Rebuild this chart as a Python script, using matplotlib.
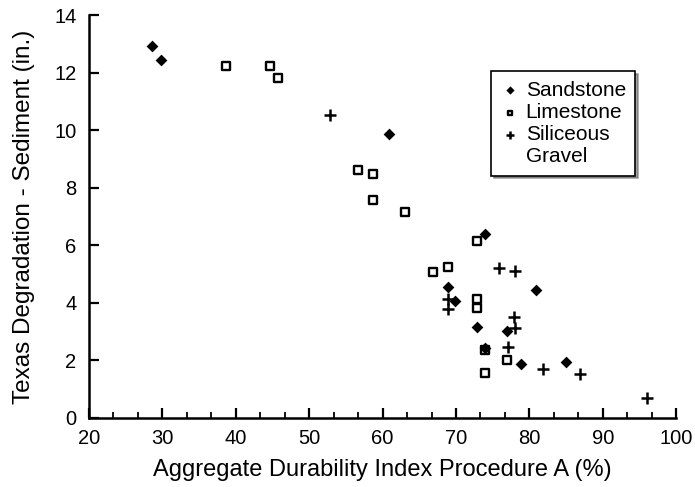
import matplotlib.pyplot as plt
from matplotlib.lines import Line2D
from matplotlib.ticker import MultipleLocator

plt.rcParams['font.family'] = ['Liberation Sans', 'DejaVu Sans']

# Sandstone
sand_x = [28.6, 29.8, 60.9, 74.0, 68.9, 69.9, 72.8, 77.0, 80.9, 78.8, 85.0, 74.0]
sand_y = [12.94, 12.43, 9.86, 6.38, 4.54, 4.06, 3.15, 3.02, 4.44, 1.86, 1.94, 2.42]

# Limestone
lime_x = [38.7, 44.7, 45.7, 56.7, 58.7, 58.7, 63.1, 66.9, 68.9, 72.8, 72.8, 72.8, 74.0, 77.0, 74.0]
lime_y = [12.23, 12.23, 11.83, 8.62, 8.46, 7.58, 7.16, 5.07, 5.23, 6.15, 4.14, 3.82, 2.36, 2.01, 1.55]

# Siliceous gravel
grav_x = [52.9, 75.9, 78.0, 68.9, 68.9, 77.9, 78.0, 77.1, 81.8, 86.9, 96.0]
grav_y = [10.51, 5.21, 5.10, 4.12, 3.77, 3.52, 3.11, 2.45, 1.70, 1.54, 0.69]

fig = plt.figure(figsize=(6.95, 4.87), dpi=100)
ax = fig.add_axes([0.128, 0.142, 0.845, 0.827])

h1 = ax.scatter(sand_x, sand_y, marker='D', s=36, c='black', linewidths=0, zorder=3)
h2 = ax.scatter(lime_x, lime_y, marker='s', s=26, facecolors='white', edgecolors='black',
                linewidths=1.7, zorder=2)
h3 = ax.scatter(grav_x, grav_y, marker='+', s=70, c='black', linewidths=1.8, zorder=3)

ax.set_xlim(20, 100)
ax.set_ylim(0, 14)
ax.xaxis.set_major_locator(MultipleLocator(10))
ax.xaxis.set_minor_locator(MultipleLocator(10 / 3))
ax.yaxis.set_major_locator(MultipleLocator(2))

for s in ['top', 'right']:
    ax.spines[s].set_visible(False)
for s in ['left', 'bottom']:
    ax.spines[s].set_linewidth(1.8)

ax.tick_params(axis='both', which='major', direction='in', length=7, width=1.6,
               labelsize=14.5)
ax.tick_params(axis='x', which='major', pad=8)
ax.tick_params(axis='y', which='major', pad=9)
ax.tick_params(axis='x', which='minor', direction='in', length=4, width=1.3)

ax.set_xlabel('Aggregate Durability Index Procedure A (%)', fontsize=17, labelpad=8)
ax.set_ylabel('Texas Degradation - Sediment (in.)', fontsize=17.5, labelpad=14)

blank = Line2D([], [], linestyle='none')
leg = ax.legend([h1, h2, h3, blank], ['Sandstone', 'Limestone', 'Siliceous', 'Gravel'],
                loc='upper left', bbox_to_anchor=(0.685, 0.86), fontsize=15,
                frameon=True, fancybox=False, shadow=True, handletextpad=0.3,
                handlelength=0.9, borderpad=0.45, labelspacing=0.15,
                markerscale=0.7, borderaxespad=0)
leg.get_frame().set_edgecolor('black')
leg.get_frame().set_linewidth(1.2)

fig.savefig('out.png', dpi=100)
